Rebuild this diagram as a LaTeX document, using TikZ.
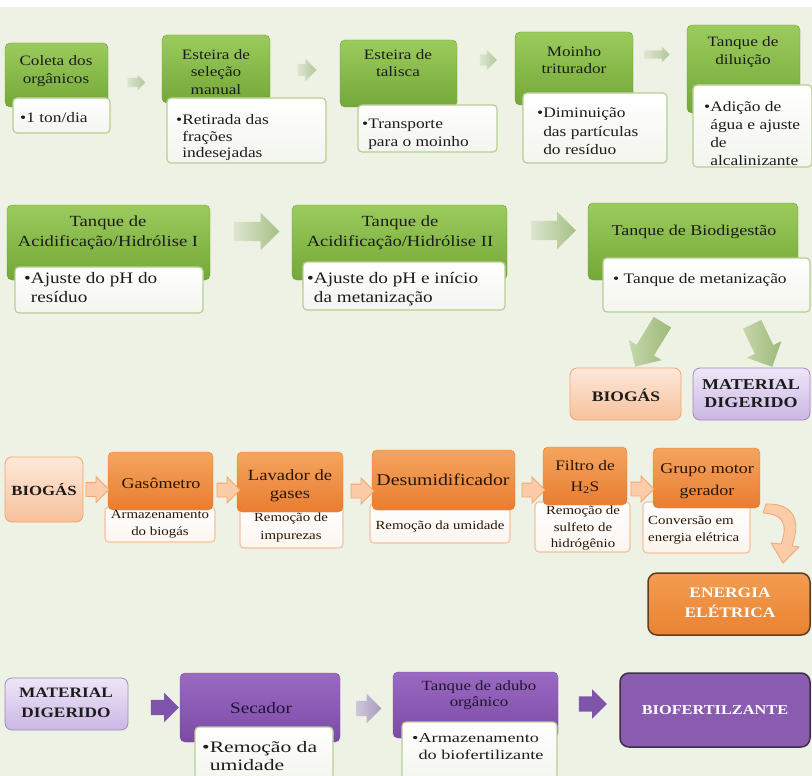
\documentclass[tikz,border=0pt]{standalone}
\usepackage{fontspec}
\setmainfont[FakeStretch=1.2]{Liberation Serif}
\newfontfamily\wfont[FakeStretch=1.35]{Liberation Serif}
\usetikzlibrary{shapes.arrows}
\definecolor{bgc}{HTML}{EEF2E4}
\definecolor{gTop}{HTML}{9BCB5C}
\definecolor{gBot}{HTML}{74A838}
\definecolor{gLine}{HTML}{6E9E36}
\definecolor{wBot}{HTML}{F3F5EE}
\definecolor{wLine}{HTML}{B8CE94}
\definecolor{arrA}{HTML}{DDE5D0}
\definecolor{arrB}{HTML}{B4C69B}
\definecolor{arrC}{HTML}{A6C084}
\definecolor{darrA}{HTML}{C4D6AA}
\definecolor{darrB}{HTML}{9DBA78}
\definecolor{oTop}{HTML}{F6A25A}
\definecolor{oBot}{HTML}{E9782A}
\definecolor{osLine}{HTML}{F5C29E}
\definecolor{osBot}{HTML}{FCF5EF}
\definecolor{oarrF}{HTML}{FCCBA7}
\definecolor{oarrL}{HTML}{F1A673}
\definecolor{lbTop}{HTML}{FDE8DA}
\definecolor{lbBot}{HTML}{F8C19B}
\definecolor{lbLine}{HTML}{F0A571}
\definecolor{lvTop}{HTML}{EEE6F7}
\definecolor{lvBot}{HTML}{CBB7E4}
\definecolor{lvLine}{HTML}{9D89BF}
\definecolor{enTop}{HTML}{F39C50}
\definecolor{enBot}{HTML}{EA8332}
\definecolor{enLine}{HTML}{5E3D22}
\definecolor{pTop}{HTML}{9A6AC3}
\definecolor{pBot}{HTML}{7A4AA5}
\definecolor{parr}{HTML}{7F55AC}
\definecolor{garrA}{HTML}{CFC6DA}
\definecolor{garrB}{HTML}{A99CBB}
\definecolor{bfF}{HTML}{8A5CB0}
\definecolor{bfLine}{HTML}{3C2E47}
\definecolor{txt}{HTML}{1C1C1C}
\definecolor{otxt}{HTML}{2A1606}
\definecolor{ptxt}{HTML}{22132F}
\newcommand\fsz[2]{\fontsize{#1}{#2}\selectfont}
\newcommand\hb{\phantom{•}}
\newcommand\mybox[6]{\node[#1, minimum width={(#4)-(#2)}, minimum height={(#5)-(#3)}] (#6) at ({((#2)+(#4))/2},{((#3)+(#5))/2}) {};}
\begin{document}
\begin{tikzpicture}[x=1pt,y=-1pt,
  box/.style={rectangle, rounded corners=5pt, inner sep=0pt, outer sep=0pt},
  gbox/.style={box, top color=gTop, bottom color=gBot, draw=gLine, line width=0.4pt},
  wbox/.style={box, rounded corners=4pt, top color=white, bottom color=wBot, draw=wLine, line width=1.2pt},
  obox/.style={box, top color=oTop, bottom color=oBot, draw=oBot, line width=0.4pt, opacity=0.96},
  osbox/.style={box, rounded corners=4pt, top color=white, bottom color=osBot, draw=osLine, line width=1.2pt},
  lbbox/.style={box, rounded corners=7pt, top color=lbTop, bottom color=lbBot, draw=lbLine, line width=0.8pt},
  lvbox/.style={box, rounded corners=7pt, top color=lvTop, bottom color=lvBot, draw=lvLine, line width=0.8pt},
  enbox/.style={box, rounded corners=9pt, top color=enTop, bottom color=enBot, draw=enLine, line width=1.5pt},
  pbox/.style={box, top color=pTop, bottom color=pBot, draw=pBot, line width=0.4pt},
  bfbox/.style={box, rounded corners=9pt, fill=bfF, draw=bfLine, line width=1.5pt},
  htxt/.style={align=center, text=txt, inner sep=0pt},
  ltxt/.style={align=left, text=txt, inner sep=0pt, anchor=west},
  otx/.style={align=center, text=otxt, inner sep=0pt},
  ptx/.style={align=center, text=ptxt, inner sep=0pt},
  sarr/.style={single arrow, draw=none, outer sep=0pt},
  ar1/.style={sarr, left color=arrA, right color=arrB},
  ar2/.style={sarr, inner sep=9.5pt, single arrow head extend=9pt, minimum height=45pt, left color=arrA, right color=arrC},
  dar/.style={sarr, inner sep=10pt, single arrow head extend=9pt, left color=darrA, right color=darrB},
  oar/.style={sarr, inner sep=6.5pt, single arrow head extend=6pt, minimum height=23pt, fill=oarrF, draw=oarrL, line width=0.8pt},
  par/.style={sarr, inner sep=7.5pt, single arrow head extend=7pt, minimum height=28pt, fill=parr},
  gar/.style={sarr, inner sep=7.5pt, single arrow head extend=7pt, minimum height=25pt, left color=garrA, right color=garrB}
]
\useasboundingbox (0,0) rectangle (812,776);
\fill[white] (0,0) rectangle (812,776);
\fill[bgc] (0,7) rectangle (812,776);

% ---------- Row 1 ----------
\mybox{gbox}{5}{43}{108}{107}{g1}
\mybox{gbox}{162}{35}{270}{103}{g2}
\mybox{gbox}{340}{40}{457}{107}{g3}
\mybox{gbox}{515}{32}{633}{105}{g4}
\mybox{gbox}{687}{25}{800}{113}{g5}
\mybox{wbox}{13}{98}{110}{133}{w1}
\mybox{wbox}{167}{98}{326}{163}{w2}
\mybox{wbox}{358}{105}{497}{152}{w3}
\mybox{wbox}{523}{93}{667}{163}{w4}
\mybox{wbox}{693}{85}{812}{167}{w5}

\node[htxt, font=\fsz{14.3}{17.5}] (tg1) at (56,71) {Coleta dos\\orgânicos};
\node[htxt, font=\fsz{14.3}{17.5}] (tg2) at (216,72) {Esteira de\\seleção\\manual};
\node[htxt, font=\fsz{14.3}{17.5}] (tg3) at (398,63) {Esteira de\\talisca};
\node[htxt, font=\fsz{14.3}{17.5}] (tg4) at (574,60) {Moinho\\triturador};
\node[htxt, font=\fsz{14.3}{17.5}] (tg5) at (743,52) {Tanque de\\diluição};

\node[ltxt, font=\fsz{14.5}{17}] (tw1) at (20,118) {•1 ton/dia};
\node[ltxt, font=\fsz{14.5}{16.5}] (tw2) at (176,138) {•Retirada das\\\hb frações\\\hb indesejadas};
\node[ltxt, font=\fsz{14.5}{18}] (tw3) at (362,134) {•Transporte\\\hb para o moinho};
\node[ltxt, font=\fsz{14.5}{18.5}] (tw4) at (537,131.5) {•Diminuição\\\hb das partículas\\\hb do resíduo};
\node[ltxt, font=\fsz{14.5}{17.7}] (tw5) at (704,133.5) {•Adição de\\\hb água e ajuste\\\hb de\\\hb alcalinizante};

\node[ar1, inner sep=4.5pt, single arrow head extend=3pt, minimum height=18pt] (ra1) at (134,82.5) {};
\node[ar1, inner sep=6pt, single arrow head extend=5pt, minimum height=19pt] (ra2) at (304,70) {};
\node[ar1, inner sep=5.5pt, single arrow head extend=4.5pt, minimum height=17pt] (ra3) at (485.5,60) {};
\node[ar1, inner sep=4pt, single arrow head extend=3.5pt, minimum height=25pt] (ra4) at (655,54.5) {};

% ---------- Row 2 ----------
\mybox{gbox}{7}{205}{210}{280}{a1}
\mybox{gbox}{292}{205}{507}{280}{a2}
\mybox{gbox}{588}{203}{798}{280}{bd}
\mybox{wbox}{15}{267}{203}{313}{wa1}
\mybox{wbox}{303}{262}{505}{310}{wa2}
\mybox{wbox}{603}{258}{810}{312}{wbd}

\node[htxt, font=\fsz{15.5}{20}] (ta1) at (108,233) {Tanque de\\Acidificação/Hidrólise I};
\node[htxt, font=\fsz{15.5}{20}] (ta2) at (400,233) {Tanque de\\Acidificação/Hidrólise II};
\node[htxt, font=\fsz{15}{20}] (tbd) at (694,232) {Tanque de Biodigestão};
\node[ltxt, font=\fsz{16}{19}] (twa1) at (24,287.5) {•Ajuste do pH do\\\hb resíduo};
\node[ltxt, font=\fsz{16}{18.5}] (twa2) at (307,289) {•Ajuste do pH e início\\\hb da metanização};
\node[ltxt, font=\fsz{14.5}{18}] (twbd) at (613,280) {• Tanque de metanização};

\node[ar2] (rb1) at (252,231.5) {};
\node[ar2] (rb2) at (548.5,230.5) {};

\mybox{lbbox}{570}{368}{681}{420}{bio1}
\mybox{lvbox}{693}{368}{810}{420}{mat1}
\node[htxt, font=\bfseries\fsz{14.6}{18}] (tbio1) at (626,395) {BIOGÁS};
\node[htxt, font=\bfseries\fsz{15}{18}] (tmat1) at (751,394) {MATERIAL\\DIGERIDO};

\node[dar, minimum height=52pt, rotate=-121.5] (da1) at (651.5,340) {};
\node[dar, minimum height=47pt, rotate=-64.5] (da2) at (760,341) {};

% ---------- Row 3 ----------
\mybox{lbbox}{5}{457}{83}{522}{bio2}
\node[htxt, font=\bfseries\fsz{14}{18}] (tbio2) at (44,490) {BIOGÁS};

\mybox{osbox}{105}{507}{215}{542}{s1}
\mybox{osbox}{240}{505}{343}{548}{s2}
\mybox{osbox}{370}{503}{510}{543}{s3}
\mybox{osbox}{535}{502}{630}{552}{s4}
\mybox{osbox}{643}{502}{750}{553}{s5}
\mybox{obox}{108}{452}{213}{510}{o1}
\mybox{obox}{237}{452}{343}{512}{o2}
\mybox{obox}{372}{450}{515}{510}{o3}
\mybox{obox}{543}{447}{627}{505}{o4}
\mybox{obox}{653}{448}{760}{508}{o5}

\node[otx, font=\fsz{15}{18}] (to1) at (161,483) {Gasômetro};
\node[otx, font=\fsz{15.5}{18}] (to2) at (290,486) {Lavador de\\gases};
\node[otx, font=\fsz{16.5}{18}] (to3) at (443,480) {Desumidificador};
\node[otx, font=\fsz{14.5}{21}] (to4) at (585,477) {Filtro de\\H\textsubscript{2}S};
\node[otx, font=\fsz{15}{22}] (to5) at (707,481) {Grupo motor\\gerador};

\node[otx, font=\fsz{12.4}{17}] (ts1) at (160,524) {Armazenamento\\do biogás};
\node[otx, font=\fsz{12.4}{18.5}] (ts2) at (291,527.5) {Remoção de\\impurezas};
\node[otx, font=\fsz{12.4}{17}] (ts3) at (440,527) {Remoção da umidade};
\node[otx, font=\fsz{12.4}{16.5}] (ts4) at (583,528.5) {Remoção de\\sulfeto de\\hidrógênio};
\node[otx, font=\fsz{12.4}{16.5}, align=left, anchor=west] (ts5) at (648,530) {Conversão em\\energia elétrica};

\node[oar] (oa1) at (94,489.5) {};
\node[oar] (oa2) at (225,490) {};
\node[oar] (oa3) at (359,491) {};
\node[oar] (oa4) at (530,490) {};
\node[oar] (oa5) at (639,489) {};

\mybox{enbox}{648}{573}{810}{635}{en}
\node[htxt, text=white, font=\bfseries\fsz{14.5}{20}] (ten) at (730,603) {ENERGIA\\ELÉTRICA};

\fill[oarrF, draw=oarrL, line width=0.8pt]
  (766,504) .. controls (795,503) and (801,522) .. (792,546)
  -- (799,547) -- (783,563) -- (771,543) -- (781,544)
  .. controls (788,525) and (784,514) .. (763,513) -- cycle;

% ---------- Row 4 ----------
\mybox{lvbox}{5}{678}{128}{730}{mat2}
\node[htxt, font=\bfseries\fsz{14.4}{20}] (tmat2) at (66,703) {MATERIAL\\DIGERIDO};

\mybox{pbox}{180}{673}{340}{742}{p1}
\mybox{pbox}{393}{672}{558}{738}{p2}
\mybox{wbox}{195}{727}{333}{782}{ps1}
\mybox{wbox}{402}{722}{557}{782}{ps2}
\node[ptx, font=\fsz{16}{18}] (tp1) at (261,708) {Secador};
\node[ptx, font=\fsz{14}{16.5}] (tp2) at (479,695) {Tanque de adubo\\orgânico};
\node[ltxt, font=\wfont\fsz{16}{18}] (tps1) at (202,756) {•Remoção da\\\hb umidade};
\node[ltxt, font=\wfont\fsz{13.5}{17}] (tps2) at (412,746.5) {•Armazenamento\\\hb do biofertilizante};

\node[par] (pa1) at (161,707.5) {};
\node[gar] (pa2) at (365,708.5) {};
\node[par] (pa3) at (589,704) {};

\mybox{bfbox}{620}{673}{810}{747}{bf}
\node[htxt, text=white, font=\bfseries\fsz{13.6}{18}] (tbf) at (715,710) {BIOFERTILZANTE};
\end{tikzpicture}
\end{document}
